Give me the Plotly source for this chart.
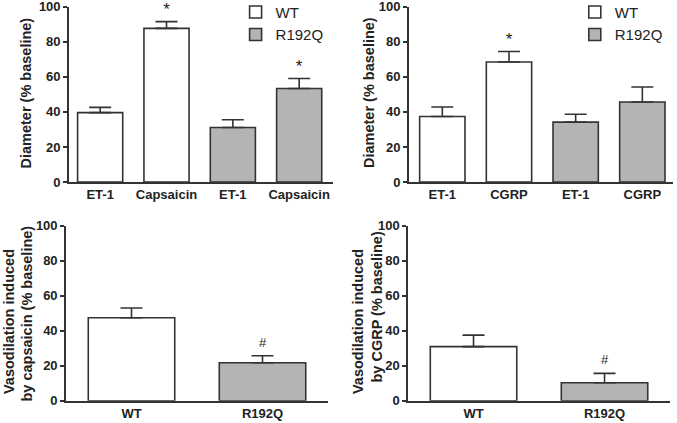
import plotly.graph_objects as go

# ---- data ----
top_left_labels = ["ET-1", "Capsaicin", "ET-1", "Capsaicin"]
top_left_wt = [39.6, 87.7]
top_left_wt_err = [3.0, 3.8]
top_left_r192q = [31.1, 53.4]
top_left_r192q_err = [4.4, 5.7]
top_left_sig = ["", "*", "", "*"]

top_right_labels = ["ET-1", "CGRP", "ET-1", "CGRP"]
top_right_wt = [37.4, 68.5]
top_right_wt_err = [5.4, 6.0]
top_right_r192q = [34.2, 45.7]
top_right_r192q_err = [4.5, 8.5]
top_right_sig = ["", "*", "", ""]

bottom_labels = ["WT", "R192Q"]
bottom_left_vals = [47.4, 21.7]
bottom_left_err = [5.6, 4.0]
bottom_left_sig = ["", "#"]
bottom_right_vals = [30.9, 10.3]
bottom_right_err = [6.6, 5.3]
bottom_right_sig = ["", "#"]

y_ticks = [0, 20, 40, 60, 80, 100]

# ---- style ----
WHITE = "#ffffff"
GRAY = "#b4b4b6"
LINE = "#333333"
TXT = "#222222"
FONT = "Liberation Sans, Arial, sans-serif"

fig = go.Figure()

def bar(x, y, err, color, name, xa, ya, legend="legend", showlegend=False, width=0.68):
    fig.add_trace(go.Bar(
        x=x, y=y, name=name, width=width,
        marker=dict(color=color, line=dict(color=LINE, width=1.6)),
        error_y=dict(type="data", symmetric=False, array=err, arrayminus=[0]*len(err),
                     color=LINE, thickness=1.6, width=11),
        xaxis=xa, yaxis=ya, showlegend=showlegend,
        legend=legend, legendgroup=name + legend,
    ))

def sig(x, tops, marks, xa, ya, offset, size):
    fig.add_trace(go.Scatter(
        x=x, y=[t + offset for t in tops], text=marks, mode="text",
        textfont=dict(family=FONT, size=size, color=TXT), textposition="middle center",
        xaxis=xa, yaxis=ya, showlegend=False, cliponaxis=False, hoverinfo="skip",
    ))

# top left
bar([0, 1], top_left_wt, top_left_wt_err, WHITE, "WT", "x", "y", "legend", True)
bar([2, 3], top_left_r192q, top_left_r192q_err, GRAY, "R192Q", "x", "y", "legend", True)
tl_tops = [v + e for v, e in zip(top_left_wt + top_left_r192q, top_left_wt_err + top_left_r192q_err)]
sig([0, 1, 2, 3], tl_tops, top_left_sig, "x", "y", 6.0, 17)

# top right
bar([0, 1], top_right_wt, top_right_wt_err, WHITE, "WT", "x2", "y2", "legend2", True)
bar([2, 3], top_right_r192q, top_right_r192q_err, GRAY, "R192Q", "x2", "y2", "legend2", True)
tr_tops = [v + e for v, e in zip(top_right_wt + top_right_r192q, top_right_wt_err + top_right_r192q_err)]
sig([0, 1, 2, 3], tr_tops, top_right_sig, "x2", "y2", 6.0, 17)

# bottom left
bar([0], bottom_left_vals[:1], bottom_left_err[:1], WHITE, "WT", "x3", "y3", width=0.66)
bar([1], bottom_left_vals[1:], bottom_left_err[1:], GRAY, "R192Q", "x3", "y3", width=0.66)
bl_tops = [v + e for v, e in zip(bottom_left_vals, bottom_left_err)]
sig([0, 1], bl_tops, bottom_left_sig, "x3", "y3", 7, 13)

# bottom right
bar([0], bottom_right_vals[:1], bottom_right_err[:1], WHITE, "WT", "x4", "y4", width=0.66)
bar([1], bottom_right_vals[1:], bottom_right_err[1:], GRAY, "R192Q", "x4", "y4", width=0.66)
br_tops = [v + e for v, e in zip(bottom_right_vals, bottom_right_err)]
sig([0, 1], br_tops, bottom_right_sig, "x4", "y4", 7, 13)

tickfont = dict(family=FONT, size=13, color=TXT, weight="bold")

def xaxis(domain, rng, labels, anchor):
    return dict(domain=domain, range=rng, anchor=anchor, automargin=False,
                tickvals=list(range(len(labels))), ticktext=labels,
                showline=True, linecolor=LINE, linewidth=1.6, ticks="",
                showgrid=False, zeroline=False, tickfont=tickfont, fixedrange=True,
                ticklabeloverflow="allow")

def yaxis(domain, anchor):
    return dict(domain=domain, range=[0, 100], anchor=anchor, tickvals=y_ticks, automargin=False,
                showline=True, linecolor=LINE, linewidth=1.6, ticks="outside",
                ticklen=4, tickwidth=1.6, tickcolor=LINE,
                showgrid=False, zeroline=False, tickfont=tickfont, fixedrange=True,
                ticklabeloverflow="allow")

top_y = [0.5697, 0.9840]
bot_y = [0.0527, 0.4664]

legend_common = dict(yanchor="top", xanchor="left", y=1.01,
                     font=dict(family=FONT, size=15, color=TXT),
                     bgcolor="rgba(0,0,0,0)", tracegroupgap=0, itemwidth=30)

fig.update_layout(
    width=677, height=423,
    margin=dict(l=0, r=0, t=0, b=0, autoexpand=False),
    paper_bgcolor="white", plot_bgcolor="white",
    barmode="overlay",
    xaxis=xaxis([0.1019, 0.4919], [-0.47, 3.51], top_left_labels, "y"),
    yaxis=yaxis(top_y, "x"),
    xaxis2=xaxis([0.6041, 0.9941], [-0.5, 3.46], top_right_labels, "y2"),
    yaxis2=yaxis(top_y, "x2"),
    xaxis3=xaxis([0.0975, 0.4845], [-0.5, 1.5], bottom_labels, "y3"),
    yaxis3=yaxis(bot_y, "x3"),
    xaxis4=xaxis([0.6027, 0.9897], [-0.5, 1.5], bottom_labels, "y4"),
    yaxis4=yaxis(bot_y, "x4"),
    legend=dict(x=0.348, **legend_common),
    legend2=dict(x=0.849, **legend_common),
    font=dict(family=FONT, color=TXT),
)

title_font = dict(family=FONT, size=14.5, color=TXT)

def ytitle(text, xpx, ypx):
    fig.add_annotation(text="<b>" + text + "</b>", textangle=-90, xref="paper", yref="paper",
                       x=xpx / 677, y=1 - ypx / 423, showarrow=False, font=title_font,
                       xanchor="center", yanchor="middle")

ytitle("Diameter (% baseline)", 25.5, 93)
ytitle("Diameter (% baseline)", 369, 93)
ytitle("Vasodilation induced", 9, 322)
ytitle("by capsaicin (% baseline)", 26, 313.5)
ytitle("Vasodilation induced", 358, 322)
ytitle("by CGRP (% baseline)", 376, 307.5)

fig.write_html("out.html", config={"displayModeBar": False},
               post_script="document.body.style.margin='0';document.body.style.overflow='hidden';")
